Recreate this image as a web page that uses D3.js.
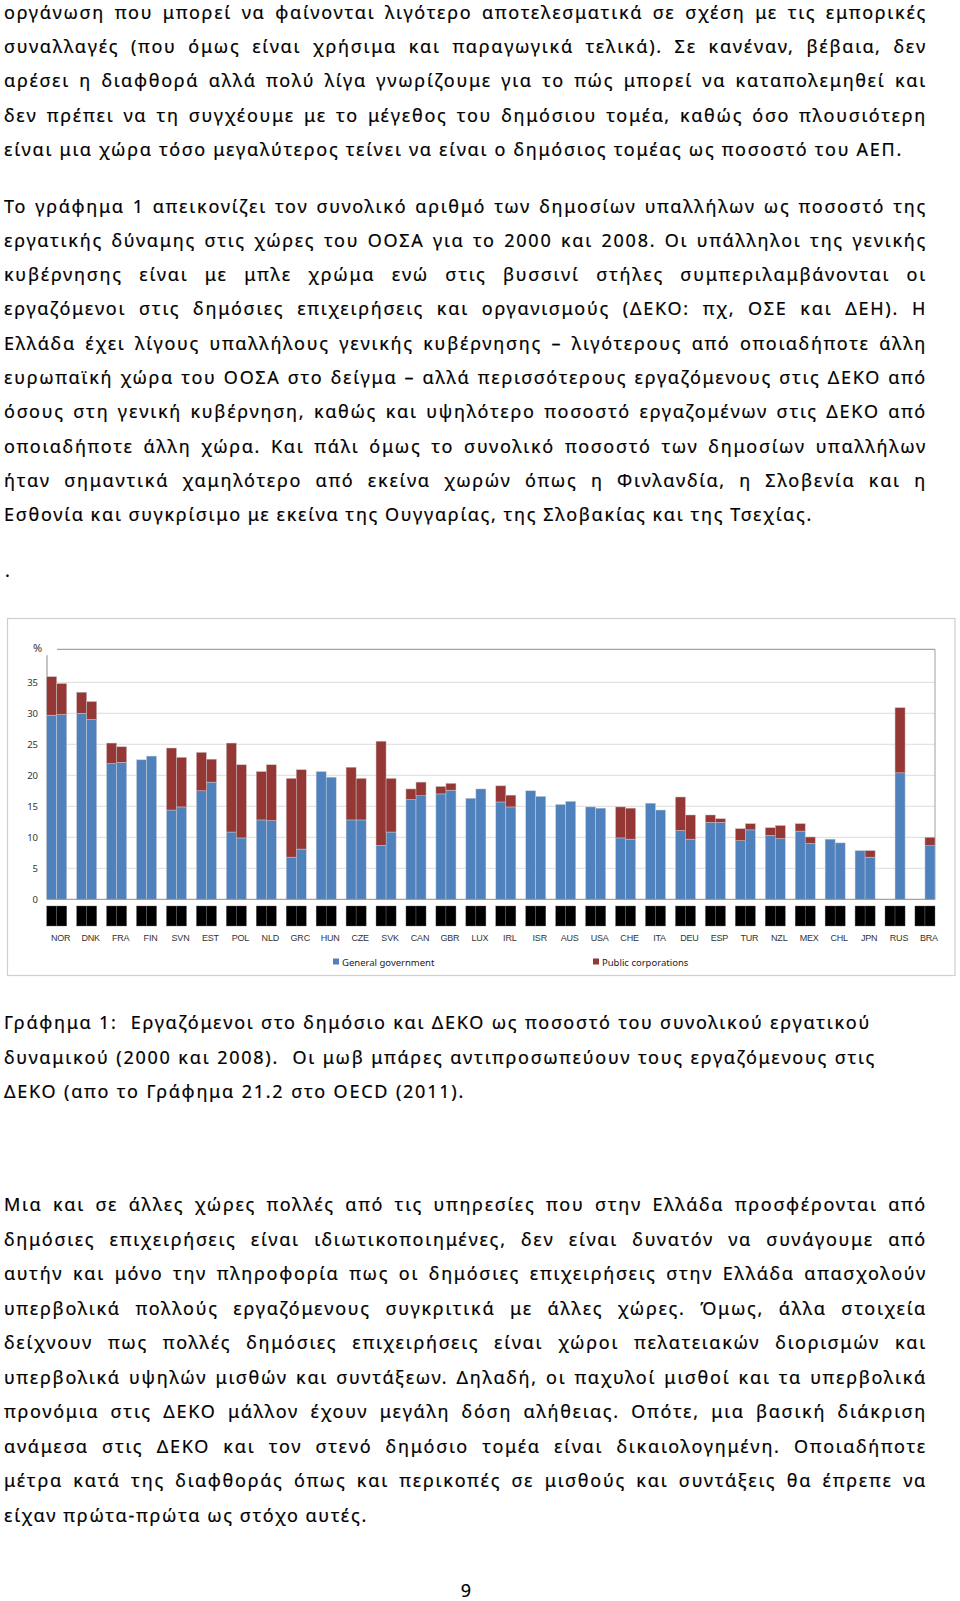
<!DOCTYPE html>
<html><head><meta charset="utf-8">
<script src="https://cdn.jsdelivr.net/npm/d3@7"></script>
<style>html,body{margin:0;padding:0;background:#fff;} svg{display:block;}</style>
</head><body>
<svg id="page" width="960" height="1601"></svg>
<script>
// ---------- data ----------
const countries = ["NOR","DNK","FRA","FIN","SVN","EST","POL","NLD","GRC","HUN","CZE","SVK","CAN","GBR","LUX","IRL","ISR","AUS","USA","CHE","ITA","DEU","ESP","TUR","NZL","MEX","CHL","JPN","RUS","BRA"];
const years = ["2000","2008"];
const gov2000 = [29.7,30.0,21.9,22.5,14.4,17.5,10.85,12.8,6.8,20.6,12.8,8.7,16.1,17.0,16.3,15.7,17.5,15.3,14.9,9.9,15.5,11.1,12.4,9.45,10.3,11.0,9.7,7.85,null,null];
const pub2000 = [6.2,3.4,3.3,0,10.0,6.2,14.35,7.8,12.7,0,8.5,16.8,1.7,1.2,0,2.6,0,0,0,5.0,0,5.4,1.2,1.95,1.25,1.2,0,0,null,null];
const gov2008 = [29.8,29.0,22.1,23.1,14.9,18.9,9.9,12.7,8.1,19.7,12.8,10.85,16.7,17.6,17.8,14.9,16.6,15.8,14.7,9.7,14.4,9.7,12.4,11.2,9.8,9.0,9.1,6.8,20.4,8.65];
const pub2008 = [5.0,2.9,2.5,0,8.0,3.7,11.8,9.0,12.8,0,6.7,8.65,2.2,1.1,0,1.9,0,0,0,5.0,0,3.9,0.6,1.0,2.1,1.05,0,1.05,10.5,1.35];
const yTicks = [0,5,10,15,20,25,30,35];
const seriesNames = ["General government","Public corporations"];

// ---------- text ----------
const para1 = [
"οργάνωση που μπορεί να φαίνονται λιγότερο αποτελεσματικά σε σχέση με τις εμπορικές",
"συναλλαγές (που όμως είναι χρήσιμα και παραγωγικά τελικά). Σε κανέναν, βέβαια, δεν",
"αρέσει η διαφθορά αλλά πολύ λίγα γνωρίζουμε για το πώς μπορεί να καταπολεμηθεί και",
"δεν πρέπει να τη συγχέουμε με το μέγεθος του δημόσιου τομέα, καθώς όσο πλουσιότερη",
"είναι μια χώρα τόσο μεγαλύτερος τείνει να είναι ο δημόσιος τομέας ως ποσοστό του ΑΕΠ."];
const para2 = [
"Το γράφημα 1 απεικονίζει τον συνολικό αριθμό των δημοσίων υπαλλήλων ως ποσοστό της",
"εργατικής δύναμης στις χώρες του ΟΟΣΑ για το 2000 και 2008. Οι υπάλληλοι της γενικής",
"κυβέρνησης είναι με μπλε χρώμα ενώ στις βυσσινί στήλες συμπεριλαμβάνονται οι",
"εργαζόμενοι στις δημόσιες επιχειρήσεις και οργανισμούς (ΔΕΚΟ: πχ, ΟΣΕ και ΔΕΗ). Η",
"Ελλάδα έχει λίγους υπαλλήλους γενικής κυβέρνησης – λιγότερους από οποιαδήποτε άλλη",
"ευρωπαϊκή χώρα του ΟΟΣΑ στο δείγμα – αλλά περισσότερους εργαζόμενους στις ΔΕΚΟ από",
"όσους στη γενική κυβέρνηση, καθώς και υψηλότερο ποσοστό εργαζομένων στις ΔΕΚΟ από",
"οποιαδήποτε άλλη χώρα. Και πάλι όμως το συνολικό ποσοστό των δημοσίων υπαλλήλων",
"ήταν σημαντικά χαμηλότερο από εκείνα χωρών όπως η Φινλανδία, η Σλοβενία και η",
"Εσθονία και συγκρίσιμο με εκείνα της Ουγγαρίας, της Σλοβακίας και της Τσεχίας."];
const caption = [
"Γράφημα 1:  Εργαζόμενοι στο δημόσιο και ΔΕΚΟ ως ποσοστό του συνολικού εργατικού",
"δυναμικού (2000 και 2008).  Οι μωβ μπάρες αντιπροσωπεύουν τους εργαζόμενους στις",
"ΔΕΚΟ (απο το Γράφημα 21.2 στο OECD (2011)."];
const para3 = [
"Μια και σε άλλες χώρες πολλές από τις υπηρεσίες που στην Ελλάδα προσφέρονται από",
"δημόσιες επιχειρήσεις είναι ιδιωτικοποιημένες, δεν είναι δυνατόν να συνάγουμε από",
"αυτήν και μόνο την πληροφορία πως οι δημόσιες επιχειρήσεις στην Ελλάδα απασχολούν",
"υπερβολικά πολλούς εργαζόμενους συγκριτικά με άλλες χώρες. Όμως, άλλα στοιχεία",
"δείχνουν πως πολλές δημόσιες επιχειρήσεις είναι χώροι πελατειακών διορισμών και",
"υπερβολικά υψηλών μισθών και συντάξεων. Δηλαδή, οι παχυλοί μισθοί και τα υπερβολικά",
"προνόμια στις ΔΕΚΟ μάλλον έχουν μεγάλη δόση αλήθειας. Οπότε, μια βασική διάκριση",
"ανάμεσα στις ΔΕΚΟ και τον στενό δημόσιο τομέα είναι δικαιολογημένη. Οποιαδήποτε",
"μέτρα κατά της διαφθοράς όπως και περικοπές σε μισθούς και συντάξεις θα έπρεπε να",
"είχαν πρώτα-πρώτα ως στόχο αυτές."];

const svg = d3.select("#page");
const FONT = "'Noto Sans', 'Open Sans', sans-serif";

// ---------- body text ----------
const J = 927, L = 4;
const blocks = [
  {lines: para1, y0: 19, lh: 34.2, ends: [J,J,J,J,903]},
  {lines: para2, y0: 212.5, lh: 34.3, ends: [J,J,J,J,J,J,J,J,J,813]},
  {lines: caption, y0: 1029, lh: 34.5, ends: [871,876,465]},
  {lines: para3, y0: 1211, lh: 34.5, ends: [J,J,J,J,J,J,J,J,J,368]}
];
const textG = svg.append("g").attr("font-family", FONT).attr("font-size", 18)
  .attr("fill", "#000").attr("stroke", "#000").attr("stroke-width", 0.2);
const items = [];
blocks.forEach(b => {
  b.lines.forEach((t, i) => {
    const node = textG.append("text").attr("x", L).attr("y", b.y0 + i * b.lh)
      .style("white-space", "pre").text(t);
    items.push({node, t, target: b.ends[i] - L, justified: b.ends[i] === J});
  });
});
items.forEach(it => {
  it.w = it.node.node().getComputedTextLength();
  it.chars = [...it.t].length;
  it.spaces = (it.t.match(/ /g) || []).length;
});
// common letter-spacing from the lines that are not justified
const free = items.filter(it => !it.justified);
const ls = Math.max(-0.5, Math.min(2.5, d3.median(free, it => (it.target - it.w) / it.chars)));
items.forEach(it => {
  const w1 = it.w + ls * it.chars;
  const ws = it.spaces ? (it.target - w1) / it.spaces : 0;
  it.node.style("letter-spacing", ls + "px").style("word-spacing", ws + "px");
});
textG.append("text").attr("x", 5).attr("y", 577).text(".");
textG.append("text").attr("x", 466).attr("y", 1597).attr("text-anchor", "middle").text("9");

// ---------- chart ----------
const chart = svg.append("g");
chart.append("rect").attr("x", 7.5).attr("y", 618.5).attr("width", 947.5).attr("height", 357)
  .attr("fill", "#fff").attr("stroke", "#cfcfcf").attr("stroke-width", 1.2);

const x = d3.scaleBand().domain(countries).range([46.7, 935]).paddingInner(0.33).paddingOuter(0);
const xYear = d3.scaleBand().domain(years).range([0, x.bandwidth()]);
const y = d3.scaleLinear().domain([0, 40]).range([899.3, 651.3]);

// gridlines
chart.append("g").selectAll("line").data(yTicks.filter(d => d > 0)).join("line")
  .attr("x1", 47).attr("x2", 935).attr("y1", d => y(d)).attr("y2", d => y(d))
  .attr("stroke", "#dcdcdc").attr("stroke-width", 1);
// plot frame (top & right)
const yTop = y(40) - 2;
chart.append("line").attr("x1", 57).attr("x2", 935).attr("y1", yTop).attr("y2", yTop)
  .attr("stroke", "#8c8c8c").attr("stroke-width", 1);
chart.append("line").attr("x1", 935).attr("x2", 935).attr("y1", yTop).attr("y2", y(0))
  .attr("stroke", "#a0a0a0").attr("stroke-width", 1);

// y axis
const yAxis = d3.axisLeft(y).tickValues(yTicks).tickSize(0).tickPadding(9);
const ya = chart.append("g").attr("transform", "translate(47,0)").call(yAxis);
ya.select(".domain").remove();
ya.selectAll("text").attr("font-family", FONT).attr("font-size", 9.5).attr("fill", "#333");
chart.append("line").attr("x1", 47).attr("x2", 47).attr("y1", y(0) - 244).attr("y2", y(0))
  .attr("stroke", "#8c8c8c");
chart.append("text").attr("x", 33).attr("y", 652).attr("font-family", FONT)
  .attr("font-size", 11).attr("fill", "#333").text("%");

// bars
const rows = countries.flatMap((c, i) => [
  {c, yr: "2000", gov: gov2000[i], pub: pub2000[i]},
  {c, yr: "2008", gov: gov2008[i], pub: pub2008[i]}
]).filter(d => d.gov != null);
const bars = chart.append("g");
bars.selectAll("rect.gov").data(rows).join("rect").attr("class", "gov")
  .attr("x", d => x(d.c) + xYear(d.yr)).attr("width", xYear.bandwidth())
  .attr("y", d => y(d.gov)).attr("height", d => y(0) - y(d.gov))
  .attr("fill", "#4F81BD").attr("stroke", "#c9cdd6").attr("stroke-width", 0.5);
bars.selectAll("rect.pub").data(rows.filter(d => d.pub > 0)).join("rect").attr("class", "pub")
  .attr("x", d => x(d.c) + xYear(d.yr)).attr("width", xYear.bandwidth())
  .attr("y", d => y(d.gov + d.pub)).attr("height", d => y(d.gov) - y(d.gov + d.pub))
  .attr("fill", "#953735").attr("stroke", "#c9c0c0").attr("stroke-width", 0.5);

// x axis baseline
chart.append("line").attr("x1", 47).attr("x2", 935).attr("y1", y(0)).attr("y2", y(0))
  .attr("stroke", "#8c8c8c");

// black year boxes
const allRows = countries.flatMap(c => years.map(yr => ({c, yr})));
chart.append("g").selectAll("rect").data(allRows).join("rect")
  .attr("x", d => x(d.c) + xYear(d.yr)).attr("width", xYear.bandwidth())
  .attr("y", 906).attr("height", 20).attr("fill", "#000")
  .attr("stroke", "#6a6a6a").attr("stroke-width", 0.4);

// country labels
chart.append("g").selectAll("text").data(countries).join("text")
  .attr("x", d => x(d) + x.bandwidth() / 2 + 4).attr("y", 941)
  .attr("text-anchor", "middle").attr("font-family", "'Liberation Sans', Arial, sans-serif")
  .attr("font-size", 9).attr("fill", "#333").attr("letter-spacing", -0.2).text(d => d);

// legend
const legendX = [333, 593];
const colors = ["#4F81BD", "#953735"];
const lg = chart.append("g").selectAll("g").data(seriesNames).join("g")
  .attr("transform", (d, i) => `translate(${legendX[i]},962)`);
lg.append("rect").attr("x", 0).attr("y", -3.5).attr("width", 6).attr("height", 6)
  .attr("fill", (d, i) => colors[i]);
lg.append("text").attr("x", 9).attr("y", 3.5).attr("font-family", FONT)
  .attr("font-size", 9.5).attr("fill", "#222").text(d => d);
</script>
</body></html>
